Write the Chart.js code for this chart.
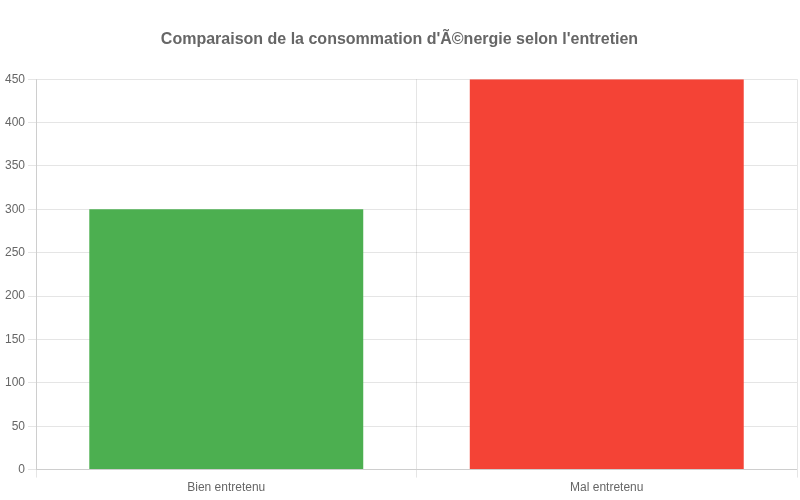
<!DOCTYPE html>
<html>
<head>
    <title>Consommation d'énergie</title>
    <script src="https://cdn.jsdelivr.net/npm/chart.js"></script>
    <style>
        body { margin: 0; background: #fff; }
        .chart-container { width: 800px; height: 500px; }
    </style>
</head>
<body>
    <div class="chart-container">
        <canvas id="energyChart"></canvas>
    </div>
    <script type="text/javascript">
        var categories = ["Bien entretenu", "Mal entretenu"];
        var consumption = [300, 450];
        var barColors = ["#4CAF50", "#F44336"];

        Chart.defaults.font.family = "'Liberation Sans', Arial, sans-serif";
        Chart.defaults.color = "#666";

        var ctx = document.getElementById('energyChart').getContext('2d');
        new Chart(ctx, {
            type: 'bar',
            data: {
                labels: categories,
                datasets: [{
                    label: 'Consommation',
                    data: consumption,
                    backgroundColor: barColors
                }]
            },
            options: {
                responsive: true,
                maintainAspectRatio: false,
                animation: false,
                layout: { padding: { top: 20, left: 2, right: 3, bottom: 2 } },
                plugins: {
                    legend: { display: false },
                    title: {
                        display: true,
                        text: "Comparaison de la consommation d'énergie selon l'entretien",
                        font: { size: 16, weight: 'bold' },
                        padding: { top: 10, bottom: 30 }
                    }
                },
                scales: {
                    y: {
                        min: 0,
                        max: 450,
                        ticks: { stepSize: 50 }
                    }
                }
            }
        });
    </script>
</body>
</html>
